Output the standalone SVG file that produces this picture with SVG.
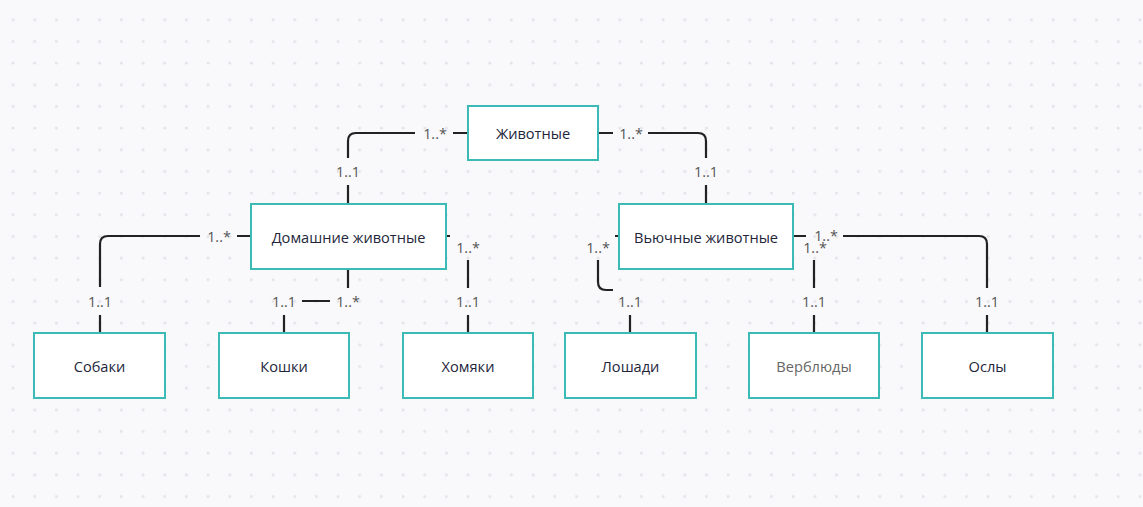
<svg xmlns="http://www.w3.org/2000/svg" width="1143" height="507" viewBox="0 0 1143 507">
<defs>
<pattern id="dots" patternUnits="userSpaceOnUse" width="21.67" height="21.67">
<circle cx="13" cy="19.7" r="1.5" fill="#e2e2e8"/>
</pattern>
<style>
.node rect{fill:#ffffff;stroke:#3cbab5;stroke-width:2}
.node text{font-family:"Open Sans","Noto Sans",sans-serif;font-size:14.6px;fill:#23263a;text-anchor:middle;dominant-baseline:central}
.conn path{fill:none;stroke:#222222;stroke-width:2.2}
.lbl{font-family:"Open Sans","Noto Sans",sans-serif;font-size:14.4px;fill:#555555;text-anchor:middle;dominant-baseline:central}
</style>
</defs>
<rect x="0" y="0" width="1143" height="507" fill="#f9f9fb"/>
<rect x="0" y="0" width="1143" height="507" fill="url(#dots)"/>
<g id="connectors" class="conn">
<path d="M468,133 H453 M415,133 H356 Q348,133 348,141 V158 M348,185 V204"/>
<path d="M598,133 H613 M648,133 H698 Q706,133 706,141 V158 M706,185 V204"/>
<path d="M251,236 H237 M200,236 H108 Q100,236 100,244 V287 M100,315 V333"/>
<path d="M348,269 V288 M330,301 H302 M284,315 V333"/>
<path d="M446,236 H450 M468,260 V288 M468,315 V333"/>
<path d="M619,236 H615 M598,260 V282 Q598,290 606,290 H613 M630,315 V333"/>
<path d="M793,236 H806 M814,260 V288 M814,315 V333"/>
<path d="M843,236 H979 Q987,236 987,244 V288 M987,315 V333"/>
</g>
<g id="labels">
<text class="lbl" x="435" y="133">1..*</text>
<text class="lbl" x="348" y="171">1..1</text>
<text class="lbl" x="631" y="133">1..*</text>
<text class="lbl" x="706" y="171">1..1</text>
<text class="lbl" x="219" y="236">1..*</text>
<text class="lbl" x="100" y="301">1..1</text>
<text class="lbl" x="348" y="301">1..*</text>
<text class="lbl" x="284" y="301">1..1</text>
<text class="lbl" x="468" y="247">1..*</text>
<text class="lbl" x="468" y="301">1..1</text>
<text class="lbl" x="598" y="247">1..*</text>
<text class="lbl" x="630" y="301">1..1</text>
<text class="lbl" x="815" y="247">1..*</text>
<text class="lbl" x="814" y="301">1..1</text>
<text class="lbl" x="826" y="235">1..*</text>
<text class="lbl" x="987" y="301">1..1</text>
</g>
<g id="n-animals" class="node"><rect x="468" y="106" width="130" height="54"/><text x="533" y="133">Животные</text></g>
<g id="n-domestic" class="node"><rect x="251" y="204" width="195" height="65"/><text x="348.5" y="236.5">Домашние животные</text></g>
<g id="n-pack" class="node"><rect x="619" y="204" width="174" height="65"/><text x="706" y="236.5">Вьючные животные</text></g>
<g id="n-dogs" class="node"><rect x="34" y="333" width="131" height="65"/><text x="99.5" y="366">Собаки</text></g>
<g id="n-cats" class="node"><rect x="219" y="333" width="130" height="65"/><text x="284" y="366">Кошки</text></g>
<g id="n-hamsters" class="node"><rect x="403" y="333" width="130" height="65"/><text x="468" y="366">Хомяки</text></g>
<g id="n-horses" class="node"><rect x="565" y="333" width="131" height="65"/><text x="630.5" y="366">Лошади</text></g>
<g id="n-camels" class="node"><rect x="749" y="333" width="130" height="65"/><text x="814" y="366" style="fill:#666666">Верблюды</text></g>
<g id="n-donkeys" class="node"><rect x="922" y="333" width="131" height="65"/><text x="987.5" y="366">Ослы</text></g>
</svg>
